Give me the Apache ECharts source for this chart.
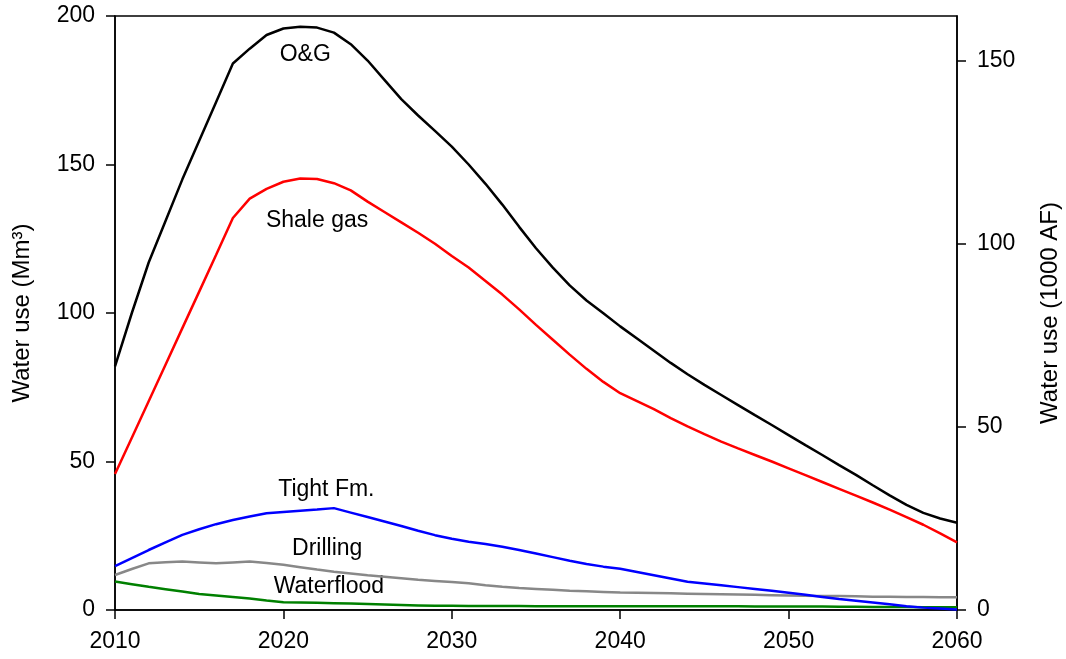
<!DOCTYPE html>
<html>
<head>
<meta charset="utf-8">
<script src="https://cdn.jsdelivr.net/npm/echarts@6/dist/echarts.min.js"></script>
<style>
html,body{margin:0;padding:0;background:#fff;}
#chart{width:1066px;height:659px;}
</style>
</head>
<body>
<div id="chart"></div>
<script>
const years = [2010,2011,2012,2013,2014,2015,2016,2017,2018,2019,
  2020,2021,2022,2023,2024,2025,2026,2027,2028,2029,
  2030,2031,2032,2033,2034,2035,2036,2037,2038,2039,
  2040,2041,2042,2043,2044,2045,2046,2047,2048,2049,
  2050,2051,2052,2053,2054,2055,2056,2057,2058,2059,2060];

const oilGas = [82,100,117,131,145,158,171,184,189,193.6,
  195.8,196.4,196.1,194.4,190.5,185,178.5,172,166.5,161.3,
  156,150,143.5,136.5,129,121.8,115.3,109.3,104.2,99.9,
  95.5,91.4,87.3,83.2,79.4,75.8,72.4,69,65.6,62.3,
  58.9,55.5,52.2,48.8,45.5,42,38.6,35.4,32.7,30.8,29.4];

const shaleGas = [45.8,58,70.3,82.6,94.9,107.2,119.5,132,138.5,141.8,
  144.2,145.3,145.1,143.7,141.3,137.5,134,130.5,127,123.3,
  119.2,115.3,110.8,106.2,101.2,96,91,86,81.2,76.8,
  73,70.3,67.6,64.6,61.8,59.2,56.7,54.4,52.2,50,
  47.7,45.4,43.1,40.8,38.5,36.2,33.8,31.3,28.7,25.8,22.8];

const tightFm = [14.8,17.5,20.2,22.8,25.3,27.2,28.9,30.3,31.5,32.6,
  33.0,33.4,33.8,34.3,32.8,31.3,29.8,28.3,26.7,25.2,
  24.0,23.0,22.2,21.3,20.2,19.0,17.8,16.6,15.5,14.6,
  13.9,12.8,11.7,10.6,9.5,8.9,8.3,7.7,7.1,6.5,
  5.8,5.1,4.4,3.7,3.1,2.5,1.9,1.3,0.8,0.5,0.2];

const drilling = [11.8,13.8,15.7,16.1,16.3,16.0,15.7,16.0,16.3,15.8,
  15.2,14.4,13.6,12.9,12.3,11.7,11.2,10.7,10.2,9.8,
  9.4,9.0,8.3,7.8,7.4,7.1,6.8,6.5,6.3,6.1,
  5.9,5.8,5.7,5.6,5.5,5.4,5.3,5.2,5.1,5.0,
  4.9,4.8,4.75,4.7,4.6,4.5,4.5,4.4,4.4,4.3,4.3];

const waterflood = [9.6,8.7,7.8,7.0,6.2,5.4,4.9,4.4,3.9,3.2,
  2.6,2.5,2.4,2.3,2.15,2.0,1.85,1.7,1.55,1.4,
  1.4,1.38,1.36,1.34,1.32,1.3,1.3,1.3,1.3,1.3,
  1.3,1.3,1.3,1.3,1.3,1.3,1.25,1.25,1.2,1.2,
  1.2,1.15,1.15,1.1,1.1,1.05,1.0,1.0,0.95,0.9,0.9];

const seriesNames = ['O&G','Shale gas','Tight Fm.','Drilling','Waterflood'];
const labelAnchors = [[2021.3,187.0],[2022.0,131.0],[2022.55,40.6],[2022.6,20.7],[2022.7,7.8]];

const xTicks = [2010,2020,2030,2040,2050,2060];
const leftTicks = [0,50,100,150,200];
const rightTicks = [0,50,100,150];
const MM3_TO_KAF = 0.81071; // 1 Mm3 = 0.81071 thousand acre-feet

const FONT = 'Liberation Sans, Arial, sans-serif';
const FS = 23;
const FS_TITLE = 24;

function pairs(vals){ return years.map((y,i)=>[y, vals[i]]); }

const allSeries = [oilGas, shaleGas, tightFm, drilling, waterflood];
const colors = ['#000000','#ff0000','#0000ff','#888888','#008000'];

const chart = echarts.init(document.getElementById('chart'), null, {renderer:'canvas'});
chart.setOption({
  animation:false,
  backgroundColor:'#fff',
  grid:{left:115,right:109,top:16,bottom:49,containLabel:false,outerBoundsMode:'none',
        show:true,borderColor:'#000',borderWidth:1.5,backgroundColor:'transparent'},
  xAxis:{
    type:'value', min:2010, max:2060, interval:10,
    axisLine:{lineStyle:{color:'#000',width:1.5}},
    axisTick:{show:true,inside:false,length:9,lineStyle:{color:'#000',width:1.5},customValues:xTicks},
    axisLabel:{color:'#000',fontFamily:FONT,fontSize:FS,margin:20,customValues:xTicks,formatter:v=>String(v)},
    splitLine:{show:false}
  },
  yAxis:[{
    type:'value', min:0, max:200, interval:50, position:'left',
    name:'Water use (Mm³)', nameLocation:'middle', nameGap:81,
    nameTextStyle:{color:'#000',fontFamily:FONT,fontSize:FS_TITLE},
    axisLine:{show:true,lineStyle:{color:'#000',width:1.5}},
    axisTick:{show:true,inside:false,length:9,lineStyle:{color:'#000',width:1.5},customValues:leftTicks},
    axisLabel:{color:'#000',fontFamily:FONT,fontSize:FS,margin:20,customValues:leftTicks},
    splitLine:{show:false}
  },{
    type:'value', min:0, max:200*MM3_TO_KAF, position:'right',
    name:'Water use (1000 AF)', nameLocation:'middle', nameGap:81,
    nameTextStyle:{color:'#000',fontFamily:FONT,fontSize:FS_TITLE},
    axisLine:{show:true,lineStyle:{color:'#000',width:1.5}},
    axisTick:{show:true,inside:false,length:9,lineStyle:{color:'#000',width:1.5},customValues:rightTicks},
    axisLabel:{color:'#000',fontFamily:FONT,fontSize:FS,margin:20,customValues:rightTicks},
    splitLine:{show:false}
  }],
  series: allSeries.map((vals,i)=>({
    type:'line', name:seriesNames[i], yAxisIndex:0,
    data:pairs(vals), showSymbol:false, symbol:'none',
    lineStyle:{color:colors[i],width:2.5}, itemStyle:{color:colors[i]},
    z: 10-i,
    markPoint:{
      symbol:'circle', symbolSize:0, silent:true,
      data:[{coord:labelAnchors[i], value:seriesNames[i]}],
      label:{show:true,position:'inside',formatter:seriesNames[i],color:'#000',fontFamily:FONT,fontSize:FS}
    }
  }))
});
</script>
</body>
</html>
